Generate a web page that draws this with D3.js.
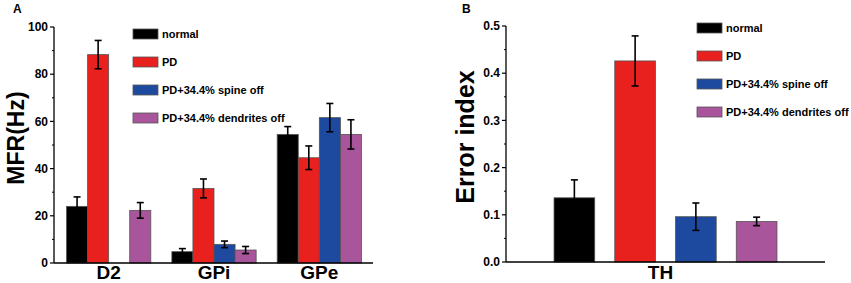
<!DOCTYPE html>
<html><head><meta charset="utf-8">
<script src="https://cdn.jsdelivr.net/npm/d3@7/dist/d3.min.js"></script>
<style>
body{margin:0;background:#fff;}
text{font-family:"Liberation Sans",Arial,sans-serif;font-weight:bold;fill:#000;}
</style></head>
<body><svg id="c" width="851" height="283"></svg>
<script>
const series = ["normal","PD","PD+34.4% spine off","PD+34.4% dendrites off"];
const colors = ["#000000","#e8211e","#1d4a9e","#a9559c"];
// Panel A
const regions = ["D2","GPi","GPe"];
const mfrNormal   = [24.0, 4.8, 54.5];
const mfrPD       = [88.3, 31.6, 44.6];
const mfrSpine    = [null, 7.9, 61.6];
const mfrDend     = [22.3, 5.5, 54.5];
const mfrErrNormal= [4.0, 1.3, 3.3];
const mfrErrPD    = [6.0, 4.0, 5.0];
const mfrErrSpine = [null, 1.4, 6.0];
const mfrErrDend  = [3.3, 1.5, 6.2];
const mfrTicks = [0,20,40,60,80,100];
// Panel B
const thCategory = "TH";
const errIndex = [0.136, 0.426, 0.096, 0.086];
const errIndexErr = [0.038, 0.053, 0.029, 0.009];
const errTicks = [0.0,0.1,0.2,0.3,0.4,0.5];

const svg = d3.select("#c");

function drawYAxis(g, y, x0, ticks, minor, fmt){
  g.append("line").attr("x1",x0).attr("x2",x0).attr("y1",y(ticks[ticks.length-1])).attr("y2",y(ticks[0]))
    .attr("stroke","#000").attr("stroke-width",1.3);
  ticks.forEach(t=>{
    g.append("line").attr("x1",x0-4).attr("x2",x0).attr("y1",y(t)).attr("y2",y(t)).attr("stroke","#000").attr("stroke-width",1.2);
    g.append("text").attr("x",x0-6).attr("y",y(t)).attr("dy","0.35em").attr("text-anchor","end")
      .style("font-size","12px").text(fmt(t));
  });
  minor.forEach(t=>{
    g.append("line").attr("x1",x0-2).attr("x2",x0).attr("y1",y(t)).attr("y2",y(t)).attr("stroke","#000").attr("stroke-width",1);
  });
}
function legend(g, x, y0, step){
  series.forEach((s,i)=>{
    const cy = y0 + i*step;
    g.append("rect").attr("x",x).attr("y",cy-5).attr("width",25).attr("height",10)
      .attr("fill",colors[i]).attr("stroke","#555").attr("stroke-width",0.8);
    g.append("text").attr("x",x+29).attr("y",cy).attr("dy","0.35em").style("font-size","11px").text(s);
  });
}
function errBar(g, cx, yv, ye, y){
  if(yv==null) return;
  const t=y(yv+ye), b=y(yv-ye);
  g.append("line").attr("x1",cx).attr("x2",cx).attr("y1",t).attr("y2",b).attr("stroke","#000").attr("stroke-width",1.6);
  [t,b].forEach(v=>g.append("line").attr("x1",cx-3.5).attr("x2",cx+3.5).attr("y1",v).attr("y2",v).attr("stroke","#000").attr("stroke-width",1.6));
}

// ---- Panel A ----
{
  const g = svg.append("g");
  const y = d3.scaleLinear().domain([0,100]).range([263,27]);
  const x0 = d3.scaleBand().domain(regions).range([56,372]).paddingInner(0.2).paddingOuter(0.1);
  const x1 = d3.scaleBand().domain(series).range([0,x0.bandwidth()]);
  const vals = [mfrNormal,mfrPD,mfrSpine,mfrDend];
  const errs = [mfrErrNormal,mfrErrPD,mfrErrSpine,mfrErrDend];
  regions.forEach((r,ri)=>{
    series.forEach((s,si)=>{
      const v = vals[si][ri];
      if(v==null) return;
      g.append("rect").attr("x",x0(r)+x1(s)).attr("y",y(v)).attr("width",x1.bandwidth()).attr("height",y(0)-y(v))
        .attr("fill",colors[si]).attr("stroke","#555").attr("stroke-width",0.8);
    });
  });
  regions.forEach((r,ri)=>{
    series.forEach((s,si)=>{
      errBar(g, x0(r)+x1(s)+x1.bandwidth()/2, vals[si][ri], errs[si][ri], y);
    });
  });
  g.append("line").attr("x1",54).attr("x2",373).attr("y1",y(0)).attr("y2",y(0)).attr("stroke","#000").attr("stroke-width",1.3);
  drawYAxis(g, y, 54, mfrTicks, [10,30,50,70,90], d=>d3.format("d")(d));
  regions.forEach(r=>{
    g.append("text").attr("x",x0(r)+x0.bandwidth()/2).attr("y",279).attr("text-anchor","middle").style("font-size","19px").text(r);
  });
  g.append("text").attr("transform","translate(24,138) rotate(-90)").attr("text-anchor","middle").style("font-size","23px").text("MFR(Hz)");
  g.append("text").attr("x",13).attr("y",13).style("font-size","12px").text("A");
  legend(g, 133, 34, 28);
}
// ---- Panel B ----
{
  const g = svg.append("g");
  const y = d3.scaleLinear().domain([0,0.5]).range([262,26]);
  const x = d3.scaleBand().domain(series).range([544,787]).paddingInner(0.33).paddingOuter(0.165);
  series.forEach((s,i)=>{
    g.append("rect").attr("x",x(s)).attr("y",y(errIndex[i])).attr("width",x.bandwidth()).attr("height",y(0)-y(errIndex[i]))
      .attr("fill",colors[i]).attr("stroke","#555").attr("stroke-width",0.8);
  });
  series.forEach((s,i)=>errBar(g, x(s)+x.bandwidth()/2, errIndex[i], errIndexErr[i], y));
  g.append("line").attr("x1",506).attr("x2",825).attr("y1",y(0)).attr("y2",y(0)).attr("stroke","#000").attr("stroke-width",1.3);
  drawYAxis(g, y, 506, errTicks, [0.05,0.15,0.25,0.35,0.45], d=>d3.format(".1f")(d));
  g.append("text").attr("x",(x.range()[0]+x.range()[1])/2-5).attr("y",279).attr("text-anchor","middle").style("font-size","19px").text(thCategory);
  g.append("text").attr("transform","translate(474,137) rotate(-90)").attr("text-anchor","middle").style("font-size","25px").text("Error index");
  g.append("text").attr("x",462).attr("y",13).style("font-size","12px").text("B");
  legend(g, 697, 28, 28);
}
</script></body></html>
